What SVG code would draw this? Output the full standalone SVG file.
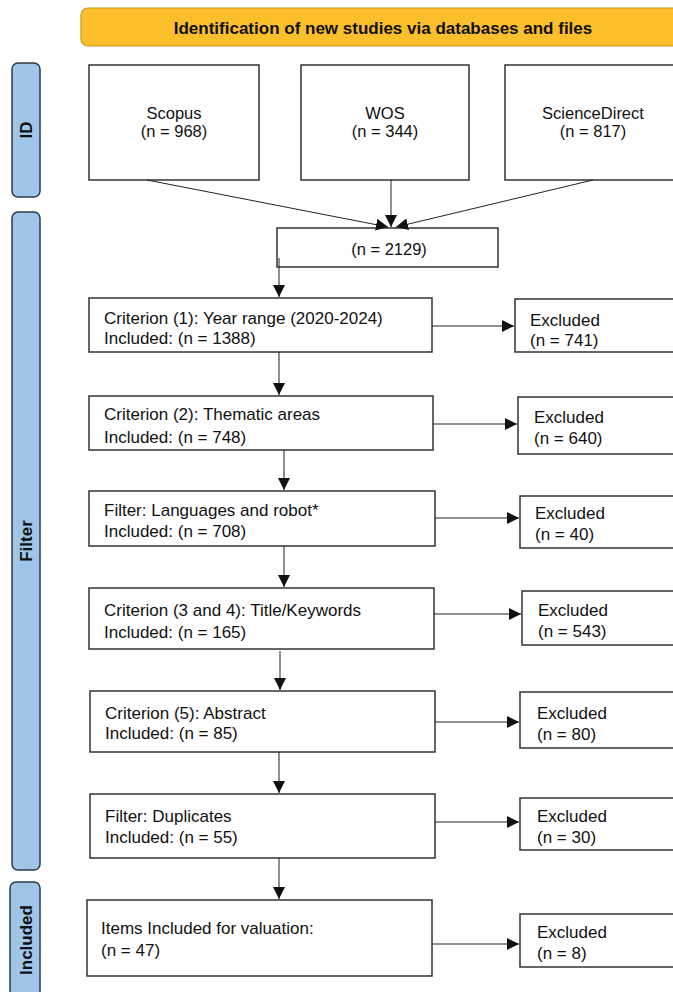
<svg xmlns="http://www.w3.org/2000/svg" width="673" height="992" viewBox="0 0 673 992">
<style>
  .box { fill: #ffffff; stroke: #333333; stroke-width: 1.5; }
  .side { fill: #9fc5e8; stroke: #2e3b48; stroke-width: 1.5; }
  .hdr { fill: #fbbf2b; stroke: #c9971e; stroke-width: 1.2; }
  .t { font-family: "Liberation Sans", Arial, sans-serif; font-size: 17px; fill: #111111; }
  .tc { font-family: "Liberation Sans", Arial, sans-serif; font-size: 16.5px; fill: #111111; text-anchor: middle; }
  .th { font-family: "Liberation Sans", Arial, sans-serif; font-size: 17px; font-weight: bold; fill: #111111; text-anchor: middle; }
  .ts { font-family: "Liberation Sans", Arial, sans-serif; font-size: 17px; font-weight: bold; fill: #111111; text-anchor: middle; }
  .c { stroke: #222222; stroke-width: 1; fill: none; marker-end: url(#ah); }
</style>
<defs>
  <marker id="ah" viewBox="0 0 12 12" refX="12" refY="6" markerWidth="12" markerHeight="12" markerUnits="userSpaceOnUse" orient="auto">
    <path d="M0,0 L12,6 L0,12 Z" fill="#111111"/>
  </marker>
</defs>
<rect width="673" height="992" fill="#ffffff"/>

<g id="header">
  <rect class="hdr" x="81" y="8" width="610" height="38" rx="7"/>
  <text class="th" x="383" y="34">Identification of new studies via databases and files</text>
</g>

<g id="side-id">
  <rect class="side" x="12" y="63" width="28" height="134" rx="6"/>
  <text class="ts" transform="translate(32,130) rotate(-90)">ID</text>
</g>
<g id="side-filter">
  <rect class="side" x="12" y="212" width="28" height="658" rx="6"/>
  <text class="ts" transform="translate(32,541) rotate(-90)">Filter</text>
</g>
<g id="side-included">
  <rect class="side" x="10" y="882" width="30" height="120" rx="6"/>
  <text class="ts" transform="translate(32,940) rotate(-90)">Included</text>
</g>

<g id="scopus">
  <rect class="box" x="89" y="65" width="170" height="115"/>
  <text class="tc" x="174" y="119">Scopus</text>
  <text class="tc" x="174" y="137">(n = 968)</text>
</g>
<g id="wos">
  <rect class="box" x="301" y="65" width="168" height="115"/>
  <text class="tc" x="385" y="119">WOS</text>
  <text class="tc" x="385" y="137">(n = 344)</text>
</g>
<g id="sciencedirect">
  <rect class="box" x="505" y="65" width="180" height="115"/>
  <text class="tc" x="593" y="119">ScienceDirect</text>
  <text class="tc" x="593" y="137">(n = 817)</text>
</g>

<g id="total">
  <rect class="box" x="277" y="228" width="221" height="39"/>
  <text class="tc" x="389" y="255">(n = 2129)</text>
</g>

<g id="c1">
  <rect class="box" x="89" y="298" width="343" height="54"/>
  <text class="t" x="104" y="324">Criterion (1): Year range (2020-2024)</text>
  <text class="t" x="104" y="344">Included: (n = 1388)</text>
</g>
<g id="e1">
  <rect class="box" x="515" y="299" width="170" height="53"/>
  <text class="t" x="530" y="326">Excluded</text>
  <text class="t" x="530" y="346">(n = 741)</text>
</g>

<g id="c2">
  <rect class="box" x="89" y="396" width="344" height="54"/>
  <text class="t" x="104" y="420">Criterion (2): Thematic areas</text>
  <text class="t" x="104" y="443">Included: (n = 748)</text>
</g>
<g id="e2">
  <rect class="box" x="518" y="397" width="167" height="57"/>
  <text class="t" x="534" y="423">Excluded</text>
  <text class="t" x="534" y="444">(n = 640)</text>
</g>

<g id="c3">
  <rect class="box" x="89" y="491" width="346" height="55"/>
  <text class="t" x="104" y="516">Filter: Languages and robot*</text>
  <text class="t" x="104" y="537">Included: (n = 708)</text>
</g>
<g id="e3">
  <rect class="box" x="520" y="496" width="165" height="52"/>
  <text class="t" x="535" y="519">Excluded</text>
  <text class="t" x="535" y="540">(n = 40)</text>
</g>

<g id="c4">
  <rect class="box" x="89" y="588" width="345" height="61"/>
  <text class="t" x="104" y="616">Criterion (3 and 4): Title/Keywords</text>
  <text class="t" x="104" y="638">Included: (n = 165)</text>
</g>
<g id="e4">
  <rect class="box" x="522" y="591" width="163" height="54"/>
  <text class="t" x="538" y="616">Excluded</text>
  <text class="t" x="538" y="637">(n = 543)</text>
</g>

<g id="c5">
  <rect class="box" x="90" y="691" width="345" height="61"/>
  <text class="t" x="105" y="719">Criterion (5): Abstract</text>
  <text class="t" x="105" y="739">Included: (n = 85)</text>
</g>
<g id="e5">
  <rect class="box" x="520" y="692" width="165" height="56"/>
  <text class="t" x="537" y="719">Excluded</text>
  <text class="t" x="537" y="740">(n = 80)</text>
</g>

<g id="c6">
  <rect class="box" x="90" y="794" width="345" height="64"/>
  <text class="t" x="105" y="822">Filter: Duplicates</text>
  <text class="t" x="105" y="843">Included: (n = 55)</text>
</g>
<g id="e6">
  <rect class="box" x="520" y="798" width="165" height="52"/>
  <text class="t" x="537" y="822">Excluded</text>
  <text class="t" x="537" y="843">(n = 30)</text>
</g>

<g id="c7">
  <rect class="box" x="87" y="900" width="345" height="76"/>
  <text class="t" x="101" y="934">Items Included for valuation:</text>
  <text class="t" x="101" y="956">(n = 47)</text>
</g>
<g id="e7">
  <rect class="box" x="520" y="914" width="165" height="53"/>
  <text class="t" x="537" y="938">Excluded</text>
  <text class="t" x="537" y="959">(n = 8)</text>
</g>

<g id="connectors">
  <path class="c" d="M147,180 L388,227"/>
  <path class="c" d="M391,180 L391,227"/>
  <path class="c" d="M593,180 L396,227"/>
  <path class="c" d="M279,258 L279,297"/>
  <path class="c" d="M432,326 L514,326"/>
  <path class="c" d="M279,352 L279,395"/>
  <path class="c" d="M433,424 L517,424"/>
  <path class="c" d="M284,450 L284,490"/>
  <path class="c" d="M435,518 L519,518"/>
  <path class="c" d="M284,546 L284,587"/>
  <path class="c" d="M434,614 L521,614"/>
  <path class="c" d="M280,651 L280,690"/>
  <path class="c" d="M435,722 L519,722"/>
  <path class="c" d="M279,752 L279,793"/>
  <path class="c" d="M435,822 L519,822"/>
  <path class="c" d="M279,858 L279,899"/>
  <path class="c" d="M432,944 L519,944"/>
</g>
</svg>
